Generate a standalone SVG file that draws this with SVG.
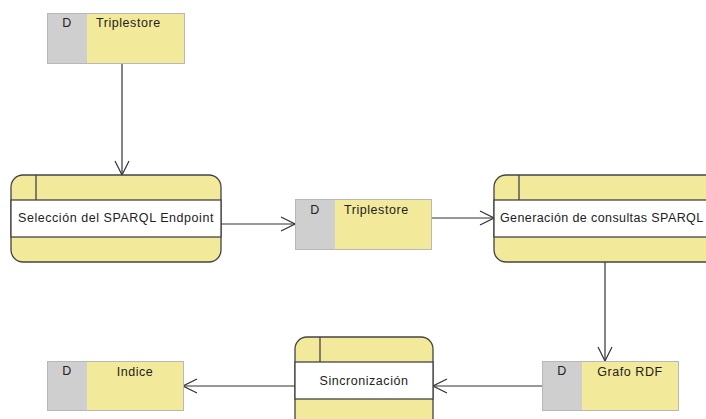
<svg xmlns="http://www.w3.org/2000/svg" width="706" height="419" viewBox="0 0 706 419">
<style>
text{font-family:"Liberation Sans",Arial,sans-serif;font-size:12.5px;letter-spacing:0.55px;fill:#222}
.sy{fill:#f3e99a;stroke:#b8b8b8;stroke-width:1}
.sg{fill:#cfcfcf;stroke:none}
.pb{fill:#f3e99a;stroke:#444;stroke-width:1.3}
.pw{fill:#fff;stroke:#444;stroke-width:1.3}
.pl{stroke:#444;stroke-width:1.3;fill:none}
.c{stroke:#333;stroke-width:1.2;fill:none}
</style>
<defs>
<marker id="a" viewBox="0 0 16 16" refX="15" refY="8" markerWidth="16" markerHeight="16" markerUnits="userSpaceOnUse" orient="auto">
<path d="M1,1 L15,8 L1,15" fill="none" stroke="#333" stroke-width="1.2"/>
</marker>
</defs>
<rect width="706" height="419" fill="#fff"/>
<g id="connectors">
<line class="c" x1="122" y1="63" x2="122" y2="175" marker-end="url(#a)"/>
<line class="c" x1="221" y1="224" x2="295" y2="224" marker-end="url(#a)"/>
<line class="c" x1="431" y1="218" x2="494" y2="218" marker-end="url(#a)"/>
<line class="c" x1="605" y1="262" x2="605" y2="361" marker-end="url(#a)"/>
<line class="c" x1="542" y1="386" x2="433" y2="386" marker-end="url(#a)"/>
<line class="c" x1="295" y1="386" x2="183" y2="386" marker-end="url(#a)"/>
</g>
<g id="store1">
<rect class="sy" x="47.5" y="13.5" width="137" height="50"/>
<rect class="sg" x="48" y="14" width="39" height="49"/>
<text x="67" y="27" text-anchor="middle">D</text>
<text x="96" y="27">Triplestore</text>
</g>
<g id="proc1">
<rect class="pb" x="11" y="175" width="210" height="87" rx="12"/>
<rect class="pw" x="11" y="200" width="210" height="37"/>
<line class="pl" x1="36" y1="175" x2="36" y2="200"/>
<text x="116" y="222" text-anchor="middle">Selección del SPARQL Endpoint</text>
</g>
<g id="store2">
<rect class="sy" x="295.5" y="199.5" width="136" height="50"/>
<rect class="sg" x="296" y="200" width="39" height="49"/>
<text x="315" y="214" text-anchor="middle">D</text>
<text x="344" y="214">Triplestore</text>
</g>
<g id="proc2">
<rect class="pb" x="494" y="175" width="240" height="87" rx="12"/>
<rect class="pw" x="494" y="200" width="240" height="37"/>
<line class="pl" x1="519" y1="175" x2="519" y2="200"/>
<text x="500" y="222" style="letter-spacing:0.4px">Generación de consultas SPARQL</text>
</g>
<g id="store3">
<rect class="sy" x="542.5" y="361.5" width="136" height="49"/>
<rect class="sg" x="543" y="362" width="39" height="48"/>
<text x="562" y="375" text-anchor="middle">D</text>
<text x="630" y="376" text-anchor="middle">Grafo RDF</text>
</g>
<g id="proc3">
<rect class="pb" x="295" y="337" width="138" height="100" rx="12"/>
<rect class="pw" x="295" y="362" width="138" height="37"/>
<line class="pl" x1="320" y1="337" x2="320" y2="362"/>
<text x="364" y="385" text-anchor="middle">Sincronización</text>
</g>
<g id="store4">
<rect class="sy" x="47.5" y="361.5" width="136" height="49"/>
<rect class="sg" x="48" y="362" width="39" height="48"/>
<text x="67" y="375" text-anchor="middle">D</text>
<text x="135" y="376" text-anchor="middle">Indice</text>
</g>
</svg>
